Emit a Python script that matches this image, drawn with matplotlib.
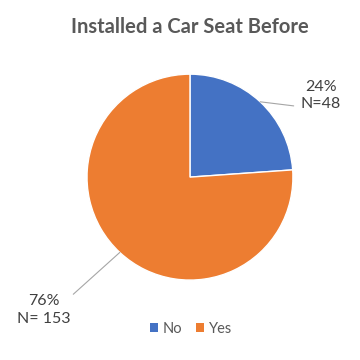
import numpy as np
import matplotlib.pyplot as plt
from matplotlib.patches import Patch

# Pie chart data
labels = ['No', 'Yes']
counts = [48, 153]
percents = [24, 76]
colors = ['#4472C4', '#ED7D31']

plt.rcParams['font.family'] = ['Lato', 'DejaVu Sans']

fig = plt.figure(figsize=(3.6, 3.6), dpi=100)
ax = fig.add_axes([0.2417, 0.222, 0.572, 0.572])

wedges, _ = ax.pie(counts, colors=colors, startangle=90, counterclock=False,
                   wedgeprops=dict(edgecolor='white', linewidth=1))
ax.set_xlim(-1, 1)
ax.set_ylim(-1, 1)
ax.set_aspect('equal')
ax.axis('off')

# data labels with leader lines
text_color = '#404040'
for w, p, n in zip(wedges, percents, counts):
    ang = np.deg2rad((w.theta1 + w.theta2) / 2)
    x, y = np.cos(ang), np.sin(ang)
    if x > 0:
        ax.annotate(f'{p}%\nN={n}', xy=(x, y), xytext=(1.27, 0.79),
                    ha='center', va='center', multialignment='center',
                    fontsize=11.5, color=text_color, linespacing=1.3,
                    annotation_clip=False,
                    arrowprops=dict(arrowstyle='-', color='#a6a6a6', lw=0.8,
                                    relpos=(0, 0.15), shrinkA=3, shrinkB=0))
    else:
        ax.annotate(f'{p}%\nN= {n}', xy=(x, y), xytext=(-1.42, -1.29),
                    ha='center', va='center', multialignment='center',
                    fontsize=11.5, color=text_color, linespacing=1.3,
                    annotation_clip=False,
                    arrowprops=dict(arrowstyle='-', color='#a6a6a6', lw=0.8,
                                    relpos=(0.83, 0.66), shrinkA=0, shrinkB=0))

fig.text(0.528, 0.925, 'Installed a Car Seat Before', ha='center', va='center',
         fontsize=14.5, fontweight='bold', color='#595959')

handles = [Patch(facecolor=c, label=l) for c, l in zip(colors, labels)]
fig.legend(handles=handles, loc='center', bbox_to_anchor=(0.53, 0.087), ncol=2,
           frameon=False, fontsize=10.5, handlelength=0.55, handleheight=0.55,
           handletextpad=0.35, columnspacing=0.9, labelcolor='#595959')

fig.savefig('out.png', dpi=100)
